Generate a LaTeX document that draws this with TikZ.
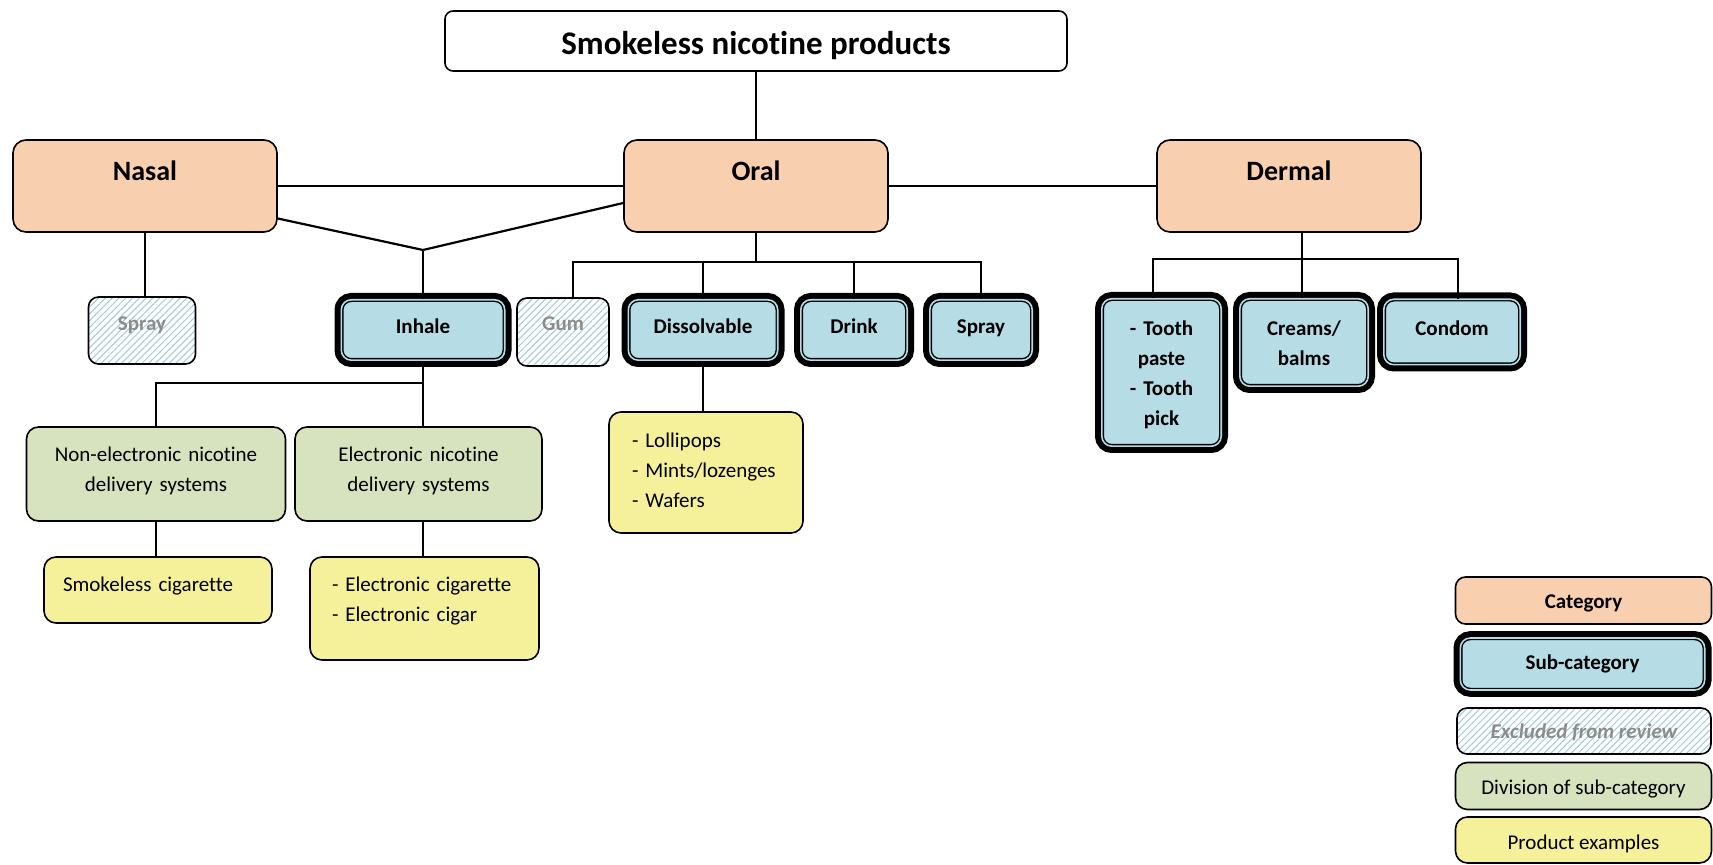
\documentclass[tikz,border=0pt]{standalone}
\usepackage{fontspec}
\setmainfont{Carlito}[RawFeature={-liga;-clig;-calt;-dlig}]
\usetikzlibrary{patterns.meta}

\definecolor{catorange}{RGB}{248,208,176}
\definecolor{subblue}{RGB}{182,220,230}
\definecolor{divgreen}{RGB}{215,226,190}
\definecolor{prodyellow}{RGB}{245,241,155}
\definecolor{hatchblue}{RGB}{160,202,220}
\definecolor{exclgray}{RGB}{140,140,140}

\tikzset{
  link/.style={line width=1.1pt},
  titlebox/.style={draw, line width=0.8pt, rounded corners=4pt, inner sep=0pt,
    font=\fontsize{16.5}{20}\selectfont\bfseries},
  catbox/.style={draw, line width=0.8pt, fill=catorange, rounded corners=6.5pt, inner sep=0pt,
    font=\fontsize{14}{17}\selectfont\bfseries},
  subbox/.style={draw, fill=subblue, line width=0.7pt, double=subblue, double distance=0.8pt,
    preaction={draw=black, line width=6.8pt}, rounded corners=5pt, inner sep=0pt, align=center,
    font=\fontsize{10.5}{15}\selectfont\bfseries},
  exclbox/.style={draw, line width=0.8pt, rounded corners=5pt, inner sep=0pt,
    pattern={Lines[angle=45,distance=2.4pt,line width=0.5pt]}, pattern color=hatchblue,
    text=exclgray, font=\fontsize{10.5}{15}\selectfont\bfseries},
  divbox/.style={draw, line width=0.8pt, fill=divgreen, rounded corners=6pt, inner sep=0pt,
    align=center, font=\fontsize{10.5}{15}\selectfont},
  prodbox/.style={draw, line width=0.8pt, fill=prodyellow, rounded corners=6pt, inner ysep=0pt,
    align=left, font=\fontsize{10.5}{15}\selectfont},
}

\begin{document}
\begin{tikzpicture}[x=0.5pt,y=-0.5pt]
    \useasboundingbox (0,0) rectangle (1713,865);

    % top and categories
    \node[titlebox, minimum width=311pt, text height=21.6pt, text depth=8.4pt] (title) at (756,41) {Smokeless nicotine products};
    \node[catbox, minimum width=132pt, text height=20.5pt, text depth=25.5pt] (nasal) at (145,186) {Nasal};
    \node[catbox, minimum width=132pt, text height=20.5pt, text depth=25.5pt] (oral) at (756,186) {Oral};
    \node[catbox, minimum width=132pt, text height=20.5pt, text depth=25.5pt] (dermal) at (1289,186) {Dermal};

    % sub-categories
    \node[exclbox, minimum width=53.5pt, text height=17pt, text depth=16.5pt] (nspray) at (142,330.5) {Spray};
    \node[subbox, minimum width=81.7pt, text height=17pt, text depth=13.2pt] (inhale) at (423,330) {Inhale};
    \node[exclbox, minimum width=46pt, text height=16.5pt, text depth=17.5pt] (gum) at (563,332) {Gum};
    \node[subbox, minimum width=74.7pt, text height=17pt, text depth=13.2pt] (dissolve) at (703,330) {Dissolvable};
    \node[subbox, minimum width=53.2pt, text height=17pt, text depth=13.2pt] (drink) at (854,330) {Drink};
    \node[subbox, minimum width=51.2pt, text height=17pt, text depth=13.2pt] (ospray) at (981,330) {Spray};
    \node[subbox, text width=59.7pt, text height=18.4pt, text depth=55.3pt] (tooth) at (1161.5,372.5) {- Tooth\\paste\\- Tooth\\pick};
    \node[subbox, text width=64.2pt, text height=18.4pt, text depth=25.3pt] (creams) at (1304,342.5) {Creams/\\balms};
    \node[subbox, minimum width=68.2pt, text height=18.2pt, text depth=14.5pt] (condom) at (1452,332) {Condom};

    % divisions and examples
    \node[divbox, text width=129.5pt, text height=17.3pt, text depth=29.7pt] (nonelec) at (156,474) {Non-electronic nicotine\\delivery systems};
    \node[divbox, text width=123.5pt, text height=17.3pt, text depth=29.7pt] (elec) at (418.5,474) {Electronic nicotine\\delivery systems};
    \node[prodbox, inner xsep=9.5pt, text width=95pt, text height=17.2pt, text depth=15.8pt] (smokecig) at (158,590) {Smokeless cigarette};
    \node[prodbox, inner xsep=11pt, text width=92.5pt, text height=17.3pt, text depth=34.2pt] (ecig) at (424.5,608.5) {- Electronic cigarette\\- Electronic cigar};
    \node[prodbox, inner xsep=11.5pt, text width=74pt, text height=18pt, text depth=42.5pt] (lolli) at (706,472.5) {- Lollipops\\- Mints/lozenges\\- Wafers};

    % key
    \node[catbox, font=\fontsize{10.5}{15}\selectfont\bfseries, rounded corners=5pt, minimum width=128pt, text height=15.9pt, text depth=7.6pt] (keycat) at (1583.5,600.5) {Category};
    \node[subbox, minimum width=122.2pt, minimum height=26pt] (keysub) at (1582.5,664) {Sub-category};
    \node[exclbox, font=\fontsize{10.5}{15}\selectfont\bfseries\itshape, minimum width=127pt, text height=15.4pt, text depth=7.6pt] (keyexcl) at (1584,731) {Excluded from review};
    \node[divbox, minimum width=128pt, text height=15.9pt, text depth=7.6pt] (keydiv) at (1583.5,786) {Division of sub-category};
    \node[prodbox, inner xsep=0pt, align=center, minimum width=128pt, text height=16.2pt, text depth=6.8pt] (keyprod) at (1583.5,840) {Product examples};

    % connectors
    \draw[link] (title.south) -- (oral.north);
    \draw[link] (nasal.east) -- (oral.west);
    \draw[link] (oral.east) -- (dermal.west);
    \coordinate (vjoin) at (423,250);
    \draw[link] ([yshift=-16.25pt]nasal.east) -- (vjoin) -- ([yshift=-8.5pt]oral.west);
    \draw[link] (vjoin) -- (inhale.north);
    \draw[link] (nasal.south) -- (nasal.south |- nspray.north);

    \draw[link] (oral.south) -- ++(0,29) coordinate (oralbus);
    \draw[link] ([xshift=5pt]gum.north) |- (oralbus) -| (ospray.north);
    \draw[link] (dissolve.north) -- (dissolve.north |- oralbus);
    \draw[link] (drink.north) -- (drink.north |- oralbus);

    \draw[link] ([xshift=6.5pt]dermal.south) -- ([xshift=6.5pt]dermal.south |- creams.north);
    \path ([xshift=6.5pt]dermal.south) ++(0,26) coordinate (dermbus);
    \draw[link] ([xshift=-4.25pt]tooth.north) |- (dermbus) -| ([xshift=3pt]condom.north);

    \draw[link] (inhale.south) -- (inhale.south |- elec.north);
    \path (inhale.south) ++(0,22) coordinate (inhbus);
    \draw[link] (inhbus) -| (nonelec.north);
    \draw[link] (nonelec.south) -- (nonelec.south |- smokecig.north);
    \draw[link] (inhale.south |- elec.south) -- (inhale.south |- ecig.north);
    \draw[link] (dissolve.south) -- (dissolve.south |- lolli.north);
\end{tikzpicture}
\end{document}
